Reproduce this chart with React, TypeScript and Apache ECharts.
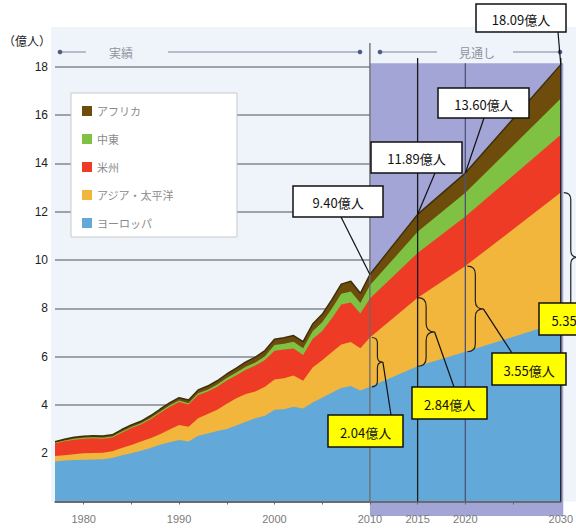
import React, { useEffect, useRef } from "react";
import * as echarts from "echarts";

// International tourist arrivals by region (100 million people), actuals to 2010, outlook to 2030
const years = [
  1977, 1978, 1979, 1980, 1981, 1982, 1983, 1984, 1985, 1986, 1987, 1988, 1989,
  1990, 1991, 1992, 1993, 1994, 1995, 1996, 1997, 1998, 1999, 2000, 2001, 2002,
  2003, 2004, 2005, 2006, 2007, 2008, 2009, 2010, 2015, 2020, 2030,
];
const europe = [
  1.66, 1.7, 1.72, 1.73, 1.74, 1.75, 1.8, 1.92, 2.0, 2.1, 2.22, 2.35, 2.45,
  2.55, 2.48, 2.72, 2.82, 2.92, 3.0, 3.15, 3.3, 3.45, 3.55, 3.8, 3.82, 3.92,
  3.85, 4.1, 4.3, 4.5, 4.7, 4.78, 4.6, 4.75, 5.6, 6.2, 7.44,
];
const asiaPacific = [
  0.22, 0.22, 0.24, 0.27, 0.27, 0.27, 0.28, 0.3, 0.34, 0.38, 0.4, 0.43, 0.53,
  0.62, 0.62, 0.73, 0.8, 0.88, 1.05, 1.13, 1.15, 1.1, 1.2, 1.25, 1.28, 1.3,
  1.15, 1.45, 1.55, 1.68, 1.8, 1.82, 1.75, 2.04, 2.84, 3.55, 5.35,
];
const americas = [
  0.52, 0.58, 0.6, 0.6, 0.61, 0.58, 0.57, 0.63, 0.7, 0.71, 0.79, 0.88, 0.93,
  0.95, 0.92, 0.96, 0.93, 0.95, 0.96, 0.95, 1.01, 1.08, 1.11, 1.19, 1.19, 1.12,
  1.07, 1.18, 1.21, 1.4, 1.66, 1.64, 1.43, 1.62, 1.85, 2.05, 2.4,
];
const middleEast = [
  0.03, 0.03, 0.04, 0.04, 0.04, 0.04, 0.04, 0.05, 0.05, 0.05, 0.05, 0.06, 0.06,
  0.06, 0.05, 0.07, 0.08, 0.09, 0.1, 0.11, 0.12, 0.13, 0.15, 0.24, 0.24, 0.27,
  0.28, 0.32, 0.36, 0.4, 0.44, 0.46, 0.44, 0.54, 0.88, 0.98, 1.5,
];
const africa = [
  0.05, 0.05, 0.06, 0.06, 0.06, 0.07, 0.07, 0.08, 0.08, 0.08, 0.09, 0.1, 0.11,
  0.12, 0.13, 0.14, 0.15, 0.16, 0.17, 0.18, 0.2, 0.22, 0.24, 0.24, 0.25, 0.26,
  0.27, 0.3, 0.33, 0.37, 0.4, 0.42, 0.4, 0.45, 0.72, 0.82, 1.4,
];

const regionNames = ["ヨーロッパ", "アジア・太平洋", "米州", "中東", "アフリカ"];
const xLabelYears = [1980, 1990, 2000, 2010, 2015, 2020, 2030];
const xTickYears = [1980, 1985, 1990, 1995, 2000, 2005, 2010, 2015, 2020, 2025];
const calloutYears = [2010, 2015, 2020, 2030];

const JP = '"Noto Sans CJK JP", "Noto Sans", sans-serif';
const LATIN = '"Liberation Sans", Arial, sans-serif';

// curly brace "}" spanning y1..y2, tip pointing right at x + w
const Brace = echarts.graphic.extendShape({
  shape: { x: 0, y1: 0, y2: 0, w: 10 },
  buildPath(ctx: any, s: any) {
    const xm = s.x + s.w / 2;
    const ym = (s.y1 + s.y2) / 2;
    const r = Math.min(s.w / 2, (s.y2 - s.y1) / 4);
    ctx.moveTo(s.x, s.y1);
    ctx.quadraticCurveTo(xm, s.y1, xm, s.y1 + r);
    ctx.lineTo(xm, ym - r);
    ctx.quadraticCurveTo(xm, ym, s.x + s.w, ym);
    ctx.quadraticCurveTo(xm, ym, xm, ym + r);
    ctx.lineTo(xm, s.y2 - r);
    ctx.quadraticCurveTo(xm, s.y2, s.x, s.y2);
  },
});
echarts.graphic.registerShape("brace", Brace);

// callout boxes for totals (white) and Asia-Pacific share (yellow)
const totalBoxes = [
  { x: 293, y: 186, w: 90, h: 31, ax: 341, ay: 217 },
  { x: 371, y: 142, w: 91, h: 31, ax: 435, ay: 173 },
  { x: 438, y: 88, w: 91, h: 30, ax: 484, ay: 118 },
  { x: 476, y: 4, w: 90, h: 28, ax: 558, ay: 32 },
];
const apBoxes = [
  { x: 328, y: 415, w: 75, h: 32, ax: 391, ay: 415, dx: 2, bw: 11 },
  { x: 412, y: 387, w: 75, h: 32, ax: 454, ay: 387, dx: 0, bw: 17 },
  { x: 492, y: 353, w: 74, h: 32, ax: 512, ay: 353, dx: 2, bw: 16 },
  { x: 539, y: 303, w: 76, h: 32, ax: 592, ay: 303, dx: 3, bw: 14 },
];

export default function App() {
  const ref = useRef<HTMLDivElement>(null);

  useEffect(() => {
    if (!ref.current) return;
    const chart = echarts.init(ref.current, null, { renderer: "svg" });

    const colors = ["#62a9d9", "#f2b63c", "#ee3b26", "#7fc243", "#6e4d0c"];
    const values = [europe, asiaPacific, americas, middleEast, africa];

    // running totals, bottom region first; each band is the area between
    // consecutive running totals, painted top-down so lower bands cover the rest
    const cumulative: number[][] = [];
    values.forEach((vals, k) => {
      cumulative.push(
        vals.map((v, i) => (k === 0 ? 0 : cumulative[k - 1][i]) + v)
      );
    });

    const series = [4, 3, 2, 1, 0].map((k) => ({
      name: regionNames[k],
      type: "line",
      symbol: "none",
      clip: false,
      z: 2,
      data: years.map((yr, i) => [yr, cumulative[k][i]]),
      itemStyle: { color: colors[k] },
      lineStyle: k === 4 ? { width: 1.5, color: "#3d2f0a" } : { width: 0 },
      areaStyle: { color: colors[k], opacity: 1, origin: "start" },
    }));

    chart.setOption({
      animation: false,
      backgroundColor: "#ffffff",
      grid: { left: 51, right: 12.5, top: 66.8, bottom: 29.5 },
      legend: {
        data: [...regionNames].reverse(),
        orient: "vertical",
        left: 71,
        top: 93,
        icon: "rect",
        itemWidth: 10,
        itemHeight: 10,
        itemGap: 14,
        selectedMode: false,
        backgroundColor: "#ffffff",
        borderColor: "#c9c9c9",
        borderWidth: 1,
        padding: [11, 63, 7, 11],
        textStyle: { color: "#8a8a8a", fontSize: 11, fontFamily: JP, lineHeight: 14 },
        z: 12,
      },
      xAxis: {
        type: "value",
        min: 1977,
        max: 2030,
        z: 3,
        axisLine: { show: true, lineStyle: { color: "#5a5a5a", width: 1.5 } },
        axisTick: {
          show: true,
          customValues: xTickYears,
          length: 3,
          lineStyle: { color: "#666" },
        },
        axisLabel: {
          customValues: xLabelYears,
          color: "#7a7a7a",
          fontSize: 11,
          fontFamily: LATIN,
          margin: 12,
          formatter: (v: number) => String(v),
        },
        splitLine: { show: false },
      },
      yAxis: {
        type: "value",
        min: 0,
        max: 18,
        interval: 2,
        z: 0.5,
        name: "（億人）",
        nameLocation: "end",
        nameGap: 26,
        nameTextStyle: {
          color: "#222",
          fontSize: 12,
          fontFamily: JP,
          align: "right",
          verticalAlign: "middle",
          padding: [0, 4, 0, 0],
        },
        axisLine: { show: false },
        axisTick: { show: false },
        axisLabel: {
          color: "#222",
          fontSize: 12,
          fontFamily: LATIN,
          margin: 7,
          formatter: (v: number) => (v === 0 ? "" : String(v)),
        },
        splitLine: { lineStyle: { color: "#9ea3a9", width: 2 } },
      },
      series,
    });

    const P = (yr: number, v: number) =>
      chart.convertToPixel({ gridIndex: 0 }, [yr, v]) as number[];
    const axisY = P(2010, 0)[1];
    const x2010 = P(2010, 0)[0];
    const x2015 = P(2015, 0)[0];
    const x2020 = P(2020, 0)[0];
    const x2030 = P(2030, 0)[0];
    const boxTop = P(2030, 18.15)[1];

    const elements: any[] = [];

    // plot panel and outlook shading
    elements.push({
      type: "rect",
      z: 0,
      shape: { x: 51, y: 27, width: 525, height: axisY - 27 },
      style: { fill: "#eef4fa" },
    });
    elements.push({
      type: "rect",
      z: 1,
      shape: { x: x2010, y: boxTop, width: x2030 - x2010 + 2.5, height: axisY + 14.5 - boxTop },
      style: { fill: "#a2a5d6" },
    });

    // period markers
    const vline = (x: number, y0: number, color: string) => ({
      type: "line",
      z: 5,
      shape: { x1: x, y1: y0, x2: x, y2: axisY },
      style: { stroke: color, lineWidth: 1.3 },
    });
    elements.push(vline(x2010, 43, "#6a6a6a"));
    elements.push(vline(x2015, 58, "#1a1a1a"));
    elements.push(vline(x2020, boxTop, "#4d5378"));
    elements.push(vline(x2030, 58, "#1a1a1a"));

    // header: actual / outlook
    const hy = 52;
    const hline = (a: number, b: number) => ({
      type: "line",
      z: 5,
      shape: { x1: a, y1: hy, x2: b, y2: hy },
      style: { stroke: "#a2aabb", lineWidth: 1.5 },
    });
    const dot = (x: number) => ({
      type: "circle",
      z: 6,
      shape: { cx: x, cy: hy, r: 2.3 },
      style: { fill: "#4f5a8c" },
    });
    const htext = (x: number, t: string) => ({
      type: "text",
      z: 6,
      x,
      y: hy,
      style: {
        text: t,
        fill: "#8e949e",
        font: `12px ${JP}`,
        textAlign: "center",
        textVerticalAlign: "middle",
        align: "center",
        verticalAlign: "middle",
      },
    });
    elements.push(hline(60, 86), dot(60), htext(121, "実績"));
    elements.push(hline(168, 360), dot(360));
    elements.push(hline(380, 437), dot(380), htext(477, "見通し"));
    elements.push(hline(513, 560), dot(560));

    const boxText = (cx: number, cy: number, t: string) => ({
      type: "text",
      z: 11,
      x: cx,
      y: cy,
      style: {
        text: t,
        fill: "#111",
        font: `13px ${JP}`,
        textAlign: "center",
        textVerticalAlign: "middle",
        align: "center",
        verticalAlign: "middle",
      },
    });

    calloutYears.forEach((yr, n) => {
      const i = years.indexOf(yr);
      const total = cumulative[4][i];
      const top = P(yr, total);
      const b = totalBoxes[n];
      elements.push({
        type: "line",
        z: 9,
        shape: { x1: b.ax, y1: b.ay, x2: top[0], y2: top[1] },
        style: { stroke: "#111", lineWidth: 1.2 },
      });
      elements.push({
        type: "rect",
        z: 10,
        shape: { x: b.x, y: b.y, width: b.w, height: b.h },
        style: { fill: "#ffffff", stroke: "#111", lineWidth: 1.5 },
      });
      elements.push(boxText(b.x + b.w / 2, b.y + b.h / 2 + 1, `${total.toFixed(2)}億人`));

      // Asia-Pacific share brace
      const lo = P(yr, cumulative[0][i]);
      const hi = P(yr, cumulative[1][i]);
      const a = apBoxes[n];
      const bx = lo[0] + a.dx;
      elements.push({
        type: "brace",
        z: 9,
        shape: { x: bx, y1: hi[1], y2: lo[1], w: a.bw },
        style: { fill: "none", stroke: "#222", lineWidth: 1.2 },
      });
      elements.push({
        type: "line",
        z: 9,
        shape: { x1: bx + a.bw, y1: (hi[1] + lo[1]) / 2, x2: a.ax, y2: a.ay },
        style: { stroke: "#111", lineWidth: 1.2 },
      });
      elements.push({
        type: "rect",
        z: 10,
        shape: { x: a.x, y: a.y, width: a.w, height: a.h },
        style: { fill: "#ffff00", stroke: "#111", lineWidth: 1.5 },
      });
      elements.push(boxText(a.x + a.w / 2, a.y + a.h / 2 + 1, `${asiaPacific[i].toFixed(2)}億人`));
    });

    chart.setOption({ graphic: { elements } });

    return () => chart.dispose();
  }, []);

  return (
    <div
      ref={ref}
      style={{ position: "fixed", left: 0, top: 0, width: 576, height: 531 }}
    />
  );
}
